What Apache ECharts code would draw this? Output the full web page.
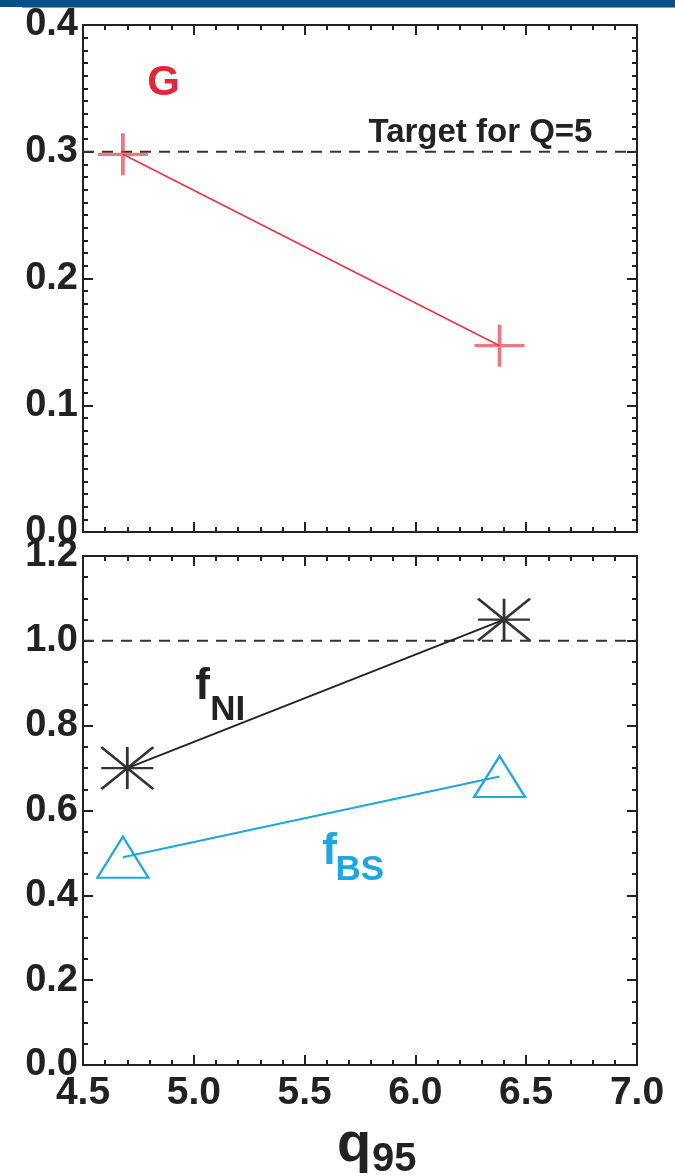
<!DOCTYPE html>
<html>
<head>
<meta charset="utf-8">
<script src="https://cdn.jsdelivr.net/npm/echarts@6/dist/echarts.min.js"></script>
<style>
  html, body { margin: 0; padding: 0; background: #fff; }
  #chart { width: 675px; height: 1176px; }
</style>
</head>
<body>
<div id="chart"></div>
<script>
// q95 scan: confinement factor G and non-inductive / bootstrap fractions
const q95G = [4.68, 6.38];
const valuesG = [0.298, 0.147];

const q95NI = [4.70, 6.40];
const valuesNI = [0.70, 1.05];

const q95BS = [4.68, 6.38];
const valuesBS = [0.49, 0.68];

// reference levels drawn as dashed lines
const targetG = 0.3;
const targetNI = 1.0;

// axis ranges and ticks
const xRange = [4.5, 7.0];
const xStep = 0.5;
const yRangeTop = [0, 0.4];
const yStepTop = 0.1;
const yRangeBottom = [0, 1.2];
const yStepBottom = 0.2;

// text annotations placed in data coordinates
const notes = [
  { panel: 0, x: 4.79, y: 0.354, text: 'G', size: 42, color: '#e0283a' },
  { panel: 0, x: 5.788, y: 0.315, text: 'Target for Q=5', size: 33, color: '#222' },
  { panel: 1, x: 5.006, y: 0.891, text: 'f', size: 44, color: '#222' },
  { panel: 1, x: 5.074, y: 0.837, text: 'NI', size: 35, color: '#222' },
  { panel: 1, x: 5.58, y: 0.502, text: 'f', size: 44, color: '#1ea6dd' },
  { panel: 1, x: 5.639, y: 0.4585, text: 'BS', size: 35, color: '#1ea6dd' }
];

const FONT = '"Liberation Sans", Arial, Helvetica, sans-serif';
const RED = '#e23a48';
const CYAN = '#1ea6dd';
const INK = '#222';

const pair = (xs, ys) => xs.map((x, i) => [x, ys[i]]);

const PLUS = 'path://M0,50L100,50M50,0L50,100';
const STAR = 'path://M0,50L100,50M50,0L50,100M0,0L100,100M100,0L0,100';
const TRIANGLE = 'path://M50,0L100,100L0,100Z';

function xAxisDef(grid, pos, labels) {
  return {
    type: 'value', gridIndex: grid, position: pos,
    min: xRange[0], max: xRange[1], interval: xStep,
    axisLine: { show: true, onZero: false, lineStyle: { color: INK, width: 2 } },
    axisTick: { show: true, inside: true, length: 10, lineStyle: { color: INK, width: 2 } },
    minorTick: { show: true, splitNumber: 5, length: 5, lineStyle: { color: INK, width: 2 } },
    splitLine: { show: false },
    axisLabel: {
      show: labels, margin: 9, fontFamily: FONT, fontWeight: 'bold', fontSize: 39, color: INK,
      showMinLabel: true, showMaxLabel: true,
      formatter: v => v.toFixed(1)
    }
  };
}

function yAxisDef(grid, pos, range, step, minors, labels) {
  return {
    type: 'value', gridIndex: grid, position: pos,
    min: range[0], max: range[1], interval: step,
    axisLine: { show: true, onZero: false, lineStyle: { color: INK, width: 2 } },
    axisTick: { show: true, inside: true, length: 10, lineStyle: { color: INK, width: 2 } },
    minorTick: { show: true, splitNumber: minors, length: 5, lineStyle: { color: INK, width: 2 } },
    splitLine: { show: false },
    axisLabel: {
      show: labels, margin: 5, fontFamily: FONT, fontWeight: 'bold', fontSize: 38, color: INK,
      showMinLabel: true, showMaxLabel: true,
      formatter: v => v.toFixed(1)
    }
  };
}

function dashed(xi, yi, level) {
  return {
    type: 'line', xAxisIndex: xi, yAxisIndex: yi,
    data: [[xRange[0], level], [xRange[1], level]],
    symbol: 'none', silent: true, z: 1,
    lineStyle: { color: '#333', width: 2, type: [11, 8] }
  };
}

const chart = echarts.init(document.getElementById('chart'), null, { renderer: 'canvas' });

chart.setOption({
  animation: false,
  backgroundColor: '#fff',
  grid: [
    { left: 83, top: 25, width: 554, height: 507 },
    { left: 83, top: 556, width: 554, height: 509 }
  ],
  xAxis: [
    xAxisDef(0, 'bottom', false),
    xAxisDef(0, 'top', false),
    xAxisDef(1, 'bottom', true),
    xAxisDef(1, 'top', false)
  ],
  yAxis: [
    yAxisDef(0, 'left', yRangeTop, yStepTop, 10, true),
    yAxisDef(0, 'right', yRangeTop, yStepTop, 10, false),
    yAxisDef(1, 'left', yRangeBottom, yStepBottom, 4, true),
    yAxisDef(1, 'right', yRangeBottom, yStepBottom, 4, false)
  ],
  series: [
    dashed(0, 0, targetG),
    dashed(2, 2, targetNI),
    {
      name: 'G', type: 'line', xAxisIndex: 0, yAxisIndex: 0,
      data: pair(q95G, valuesG),
      symbol: PLUS, symbolSize: [50, 42], showSymbol: true, z: 3,
      lineStyle: { color: RED, width: 1.8 },
      itemStyle: { color: 'rgba(0,0,0,0)', borderColor: 'rgba(226,48,66,0.65)', borderWidth: 3.5 }
    },
    {
      name: 'fNI', type: 'line', xAxisIndex: 2, yAxisIndex: 2,
      data: pair(q95NI, valuesNI),
      symbol: STAR, symbolSize: [52, 42], showSymbol: true, z: 3,
      lineStyle: { color: INK, width: 1.8 },
      itemStyle: { color: 'rgba(0,0,0,0)', borderColor: '#333', borderWidth: 2.5 }
    },
    {
      name: 'fBS', type: 'line', xAxisIndex: 2, yAxisIndex: 2,
      data: pair(q95BS, valuesBS),
      symbol: TRIANGLE, symbolSize: [51, 41], showSymbol: true, z: 3,
      lineStyle: { color: CYAN, width: 2 },
      itemStyle: { color: 'rgba(0,0,0,0)', borderColor: CYAN, borderWidth: 2.2 }
    }
  ]
});

// annotations and the axis title, placed once the grids are laid out
const graphics = [
  { type: 'rect', shape: { x: 0, y: 0, width: 675, height: 7 }, style: { fill: '#0b4d8b' }, silent: true },
  { type: 'rect', shape: { x: 22, y: 7, width: 653, height: 1 }, style: { fill: '#7d9cc2' }, silent: true }
];

notes.forEach(n => {
  const p = chart.convertToPixel({ gridIndex: n.panel }, [n.x, n.y]);
  graphics.push({
    type: 'text', x: p[0], y: p[1], silent: true,
    style: {
      text: n.text, fill: n.color, font: 'bold ' + n.size + 'px ' + FONT,
      textAlign: 'left', textVerticalAlign: 'middle'
    }
  });
});

// x axis title: q with subscript 95
const axisMid = chart.convertToPixel({ gridIndex: 1 }, [(xRange[0] + xRange[1]) / 2, 0]);
graphics.push({
  type: 'text', x: axisMid[0] - 23, y: 1146, silent: true,
  style: { text: 'q', fill: INK, font: 'bold 56px ' + FONT, textAlign: 'left', textVerticalAlign: 'middle' }
});
graphics.push({
  type: 'text', x: axisMid[0] + 12, y: 1160, silent: true,
  style: { text: '95', fill: INK, font: 'bold 40px ' + FONT, textAlign: 'left', textVerticalAlign: 'middle' }
});

chart.setOption({ graphic: graphics });
</script>
</body>
</html>
